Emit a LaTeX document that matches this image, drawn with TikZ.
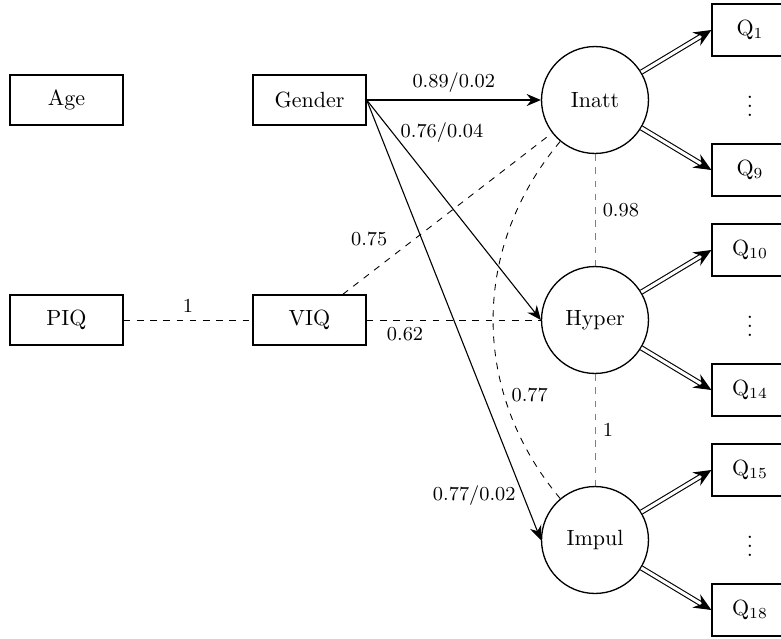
\documentclass[tikz,border=0pt]{standalone}
\usetikzlibrary{arrows.meta}
\begin{document}
\begin{tikzpicture}[x=0.4545pt,y=-0.4545pt,
  obs/.style={draw, line width=0.6pt, minimum width=51.4pt, minimum height=22.7pt, inner sep=2pt},
  qbox/.style={draw, line width=0.6pt, minimum width=34.5pt, minimum height=23.6pt, inner sep=2pt},
  lat/.style={draw, circle, line width=0.6pt, minimum size=48.6pt, inner sep=1pt},
  lab/.style={font=\small},
  arr/.style={line width=0.5pt, -{Stealth[length=6.5pt,width=5.5pt,inset=2.2pt]}},
  darr/.style={line width=0.5pt, double, double distance=1.4pt, -{Stealth[length=8pt,width=7pt,inset=2.8pt]}},
  dsh/.style={dashed},
  gdsh/.style={dashed, gray}]
\useasboundingbox (0,0) rectangle (781,638);
\node[obs] (age) at (66.5,100) {Age};
\node[obs] (gender) at (309.5,100) {Gender};
\node[obs] (piq) at (66.5,320) {PIQ};
\node[obs] (viq) at (309.5,320) {VIQ};
\node[lat] (inatt) at (595,100) {Inatt};
\node[lat] (hyper) at (595,320) {Hyper};
\node[lat] (impul) at (595,540) {Impul};
\node[qbox] (q1) at (750,30) {Q$_1$};
\node (d1) at (750,100) {$\vdots$};
\node[qbox] (q9) at (750,170) {Q$_9$};
\node[qbox] (q10) at (750,250) {Q$_{10}$};
\node (d2) at (750,320) {$\vdots$};
\node[qbox] (q14) at (750,390) {Q$_{14}$};
\node[qbox] (q15) at (750,470) {Q$_{15}$};
\node (d3) at (750,540) {$\vdots$};
\node[qbox] (q18) at (750,610) {Q$_{18}$};

\draw[arr] (gender.east) -- node[above,lab]{0.89/0.02} (inatt);
\draw[arr] (gender.east) -- node[pos=0.15,right,lab]{0.76/0.04} (hyper.west);
\draw[arr] (gender.east) -- node[pos=0.9,left,lab]{0.77/0.02} (impul.west);
\draw[dsh] (piq) -- node[above,lab]{1} (viq);
\draw[dsh] (viq) -- node[pos=0.22,below,lab]{0.62} (hyper);
\draw[dsh] (viq) -- node[pos=0.25,above left,lab]{0.75} (inatt);
\draw[dsh] (inatt) to[bend right=40] node[pos=0.7,right,lab]{0.77} (impul);
\draw[gdsh] (inatt) -- node[right,lab,black]{0.98} (hyper);
\draw[gdsh] (hyper) -- node[right,lab,black]{1} (impul);

\draw[darr] (inatt) -- (q1.west);
\draw[darr] (inatt) -- (q9.west);
\draw[darr] (hyper) -- (q10.west);
\draw[darr] (hyper) -- (q14.west);
\draw[darr] (impul) -- (q15.west);
\draw[darr] (impul) -- (q18.west);
\end{tikzpicture}
\end{document}
